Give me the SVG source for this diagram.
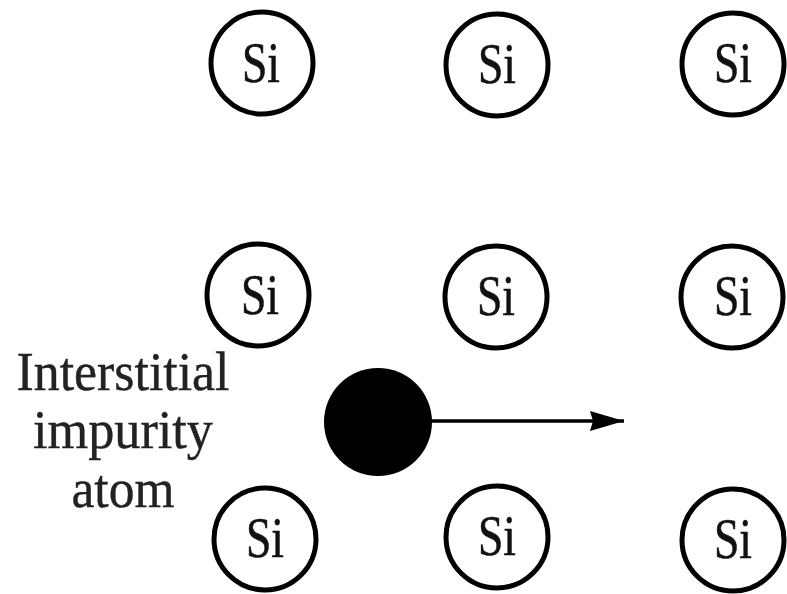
<svg xmlns="http://www.w3.org/2000/svg" width="787" height="594" viewBox="0 0 787 594">
  <style>
    .atom circle { fill: #fff; stroke: #000; stroke-width: 5; }
    .atom text { font-family: "Liberation Serif", "Times New Roman", serif; font-size: 58px; fill: #111; stroke: #111; stroke-width: 0.6; text-anchor: middle; }
    .label { font-family: "Liberation Serif", "Times New Roman", serif; font-size: 54px; fill: #222; stroke: #222; stroke-width: 0.4; text-anchor: middle; }
  </style>
  <defs>
    <marker id="arrowBig" viewBox="0 0 34 20" refX="34" refY="10" markerWidth="34" markerHeight="20" markerUnits="userSpaceOnUse" orient="auto">
      <path d="M0,0 L34,10 L0,20 L3,10 Z" fill="#000"/>
    </marker>
  </defs>
  <rect width="787" height="594" fill="#fff"/>

  <g id="si-1-1" class="atom"><circle cx="262" cy="63" r="51"/><text x="261" y="82" textLength="38" lengthAdjust="spacingAndGlyphs">Si</text></g>
  <g id="si-1-2" class="atom"><circle cx="497" cy="65" r="51"/><text x="497" y="83" textLength="38" lengthAdjust="spacingAndGlyphs">Si</text></g>
  <g id="si-1-3" class="atom"><circle cx="733" cy="64" r="51"/><text x="733" y="82" textLength="38" lengthAdjust="spacingAndGlyphs">Si</text></g>

  <g id="si-2-1" class="atom"><circle cx="258" cy="295" r="51"/><text x="260" y="314" textLength="38" lengthAdjust="spacingAndGlyphs">Si</text></g>
  <g id="si-2-2" class="atom"><circle cx="496" cy="297" r="51"/><text x="496" y="315" textLength="38" lengthAdjust="spacingAndGlyphs">Si</text></g>
  <g id="si-2-3" class="atom"><circle cx="732" cy="297" r="51"/><text x="733" y="315" textLength="38" lengthAdjust="spacingAndGlyphs">Si</text></g>

  <g id="si-3-1" class="atom"><circle cx="265" cy="539" r="51"/><text x="265" y="557" textLength="38" lengthAdjust="spacingAndGlyphs">Si</text></g>
  <g id="si-3-2" class="atom"><circle cx="497" cy="537" r="51"/><text x="497" y="555" textLength="38" lengthAdjust="spacingAndGlyphs">Si</text></g>
  <g id="si-3-3" class="atom"><circle cx="733" cy="540" r="51"/><text x="733" y="558" textLength="38" lengthAdjust="spacingAndGlyphs">Si</text></g>

  <g id="impurity">
    <circle cx="378" cy="422" r="54" fill="#000"/>
  </g>

  <g id="label">
    <text class="label" x="123" y="390" textLength="213" lengthAdjust="spacingAndGlyphs">Interstitial</text>
    <text class="label" x="123" y="448" textLength="180" lengthAdjust="spacingAndGlyphs">impurity</text>
    <text class="label" x="123" y="507" textLength="103" lengthAdjust="spacingAndGlyphs">atom</text>
  </g>

  <g id="connectors">
    <line x1="430" y1="421" x2="624" y2="421" stroke="#000" stroke-width="3.5" marker-end="url(#arrowBig)"/>
  </g>
</svg>
